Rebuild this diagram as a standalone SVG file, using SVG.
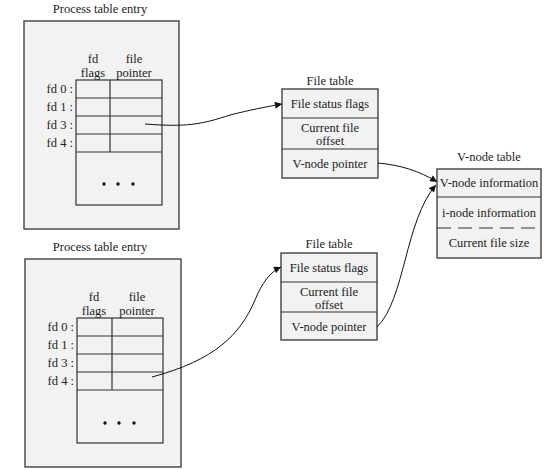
<svg xmlns="http://www.w3.org/2000/svg" width="554" height="470" viewBox="0 0 554 470">
<style>
text{font-family:"Liberation Serif","Times New Roman",serif;font-size:12.5px;fill:#222;text-anchor:middle}
.r{text-anchor:end}
.box{fill:#f2f2f2;stroke:#444;stroke-width:1.4}
.cell{fill:#f2f2f2;stroke:#333;stroke-width:1.2}
.ln{stroke:#333;stroke-width:1.2;fill:none}
.con{stroke:#111;stroke-width:1;fill:none;marker-end:url(#ah)}
</style>
<defs>
<marker id="ah" viewBox="0 0 10 10" refX="10" refY="5" markerWidth="9" markerHeight="7" markerUnits="userSpaceOnUse" orient="auto">
<path d="M0,0 L10,5 L0,10 z" fill="#111"/>
</marker>
</defs>
<rect width="554" height="470" fill="#fff"/>

<g id="process1">
<text x="100" y="13">Process table entry</text>
<rect class="box" x="24" y="21" width="155" height="208"/>
<rect class="cell" x="76" y="80" width="86" height="125"/>
<path class="ln" d="M76,98H162M76,116H162M76,134H162M76,152H162M110,80V152"/>
<text x="93" y="63">fd</text><text x="93" y="77">flags</text>
<text x="134" y="63">file</text><text x="134" y="77">pointer</text>
<text class="r" x="73" y="93">fd 0 :</text>
<text class="r" x="73" y="111">fd 1 :</text>
<text class="r" x="73" y="129">fd 3 :</text>
<text class="r" x="73" y="147">fd 4 :</text>
<circle cx="104" cy="184" r="1.7" fill="#111"/><circle cx="118" cy="184" r="1.7" fill="#111"/><circle cx="133" cy="184" r="1.7" fill="#111"/>
</g>

<g id="process2">
<text x="100" y="251">Process table entry</text>
<rect class="box" x="25" y="259" width="156" height="208"/>
<rect class="cell" x="77" y="318" width="86" height="125"/>
<path class="ln" d="M77,336H163M77,354H163M77,372H163M77,390H163M112,318V390"/>
<text x="94" y="301">fd</text><text x="94" y="315">flags</text>
<text x="137" y="301">file</text><text x="137" y="315">pointer</text>
<text class="r" x="74" y="331">fd 0 :</text>
<text class="r" x="74" y="349">fd 1 :</text>
<text class="r" x="74" y="367">fd 3 :</text>
<text class="r" x="74" y="385">fd 4 :</text>
<circle cx="105" cy="423" r="1.7" fill="#111"/><circle cx="119" cy="423" r="1.7" fill="#111"/><circle cx="134" cy="423" r="1.7" fill="#111"/>
</g>

<g id="filetable1">
<text x="330" y="85">File table</text>
<rect class="box" x="282" y="89" width="96" height="89"/>
<path class="ln" d="M282,118H378M282,149H378"/>
<text x="330" y="108">File status flags</text>
<text x="330" y="132">Current file</text>
<text x="330" y="145">offset</text>
<text x="330" y="168">V-node pointer</text>
</g>

<g id="filetable2">
<text x="329" y="248">File table</text>
<rect class="box" x="281" y="253" width="96" height="87"/>
<path class="ln" d="M281,282H377M281,312H377"/>
<text x="329" y="272">File status flags</text>
<text x="329" y="296">Current file</text>
<text x="329" y="309">offset</text>
<text x="329" y="331">V-node pointer</text>
</g>

<g id="vnodetable">
<text x="489" y="161">V-node table</text>
<rect class="box" x="437" y="169" width="104" height="89"/>
<path class="ln" d="M437,197H541"/>
<path class="ln" d="M437,228H541" stroke-dasharray="14 7"/>
<text x="489" y="187">V-node information</text>
<text x="489" y="217">i-node information</text>
<text x="489" y="247">Current file size</text>
</g>

<g id="connectors">
<path class="con" d="M145,124 C185,127 200,125 230,115 C250,110 265,107 282,104"/>
<path class="con" d="M152,377 C215,360 240,335 255,300 C262,283 270,272 281,267"/>
<path class="con" d="M378,163 C400,165 420,171 437,182"/>
<path class="con" d="M377,327 C405,300 405,220 436,185"/>
</g>
</svg>
